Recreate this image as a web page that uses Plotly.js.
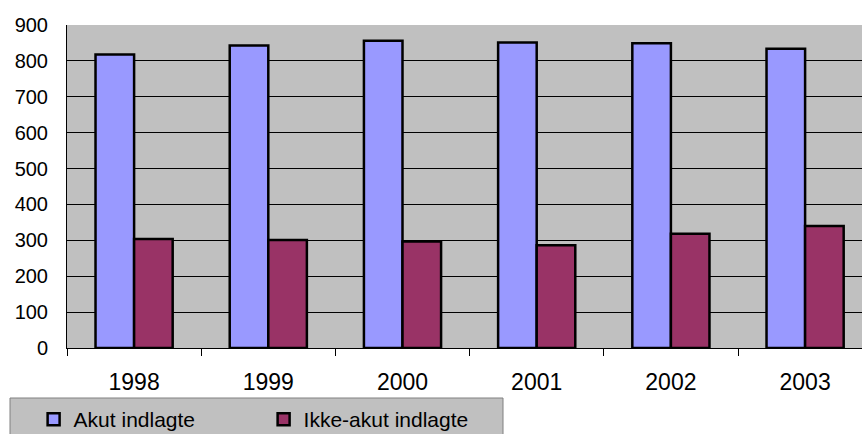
<!DOCTYPE html>
<html>
<head>
<meta charset="utf-8">
<script src="https://cdn.plot.ly/plotly-3.0.1.min.js"></script>
<style>html,body{margin:0;padding:0;background:#fff;}#chart{width:862px;height:434px;}</style>
</head>
<body>
<div id="chart"></div>
<script>
var years = ["1998", "1999", "2000", "2001", "2002", "2003"];
var akut = [818, 843, 856, 851, 849, 834];
var ikkeAkut = [304, 301, 297, 286, 318, 340];
var seriesNames = ["Akut indlagte", "Ikke-akut indlagte"];
var yTicks = [0, 100, 200, 300, 400, 500, 600, 700, 800, 900];

var FONT = "Arial, 'Liberation Sans', sans-serif";

var data = [
  {type: "bar", x: years, y: akut, name: seriesNames[0],
   marker: {color: "#9999FF", line: {color: "#000000", width: 2.5}}},
  {type: "bar", x: years, y: ikkeAkut, name: seriesNames[1],
   marker: {color: "#993366", line: {color: "#000000", width: 2.5}}}
];

var layout = {
  width: 862, height: 434,
  margin: {l: 67, r: 0, t: 25, b: 86, pad: 0, autoexpand: false},
  paper_bgcolor: "#FFFFFF",
  plot_bgcolor: "#C0C0C0",
  font: {family: FONT, color: "#000000", size: 20},
  barmode: "group",
  bargap: 0.425,
  bargroupgap: 0,
  xaxis: {
    type: "category",
    range: [-0.5, 5.424],
    automargin: false,
    showgrid: false,
    showline: true, linecolor: "#000000", linewidth: 1,
    ticks: "outside", tickson: "boundaries", ticklen: 7, tickcolor: "#000000", tickwidth: 1,
    tickfont: {family: FONT, size: 23, color: "#000000"},
    ticklabelstandoff: 13,
    zeroline: false, fixedrange: true
  },
  yaxis: {
    range: [0, 900],
    automargin: false,
    tickvals: yTicks,
    ticktext: yTicks.map(String),
    showgrid: true, gridcolor: "#000000", gridwidth: 1,
    showline: true, linecolor: "#000000", linewidth: 1,
    ticks: "",
    tickfont: {family: FONT, size: 20, color: "#000000"},
    ticklabelstandoff: 14,
    zeroline: false, fixedrange: true
  },
  showlegend: true,
  legend: {
    orientation: "h",
    x: -0.042, xanchor: "left",
    y: -0.158, yanchor: "top",
    bgcolor: "rgba(0,0,0,0)",
    borderwidth: 0,
    font: {family: FONT, size: 21, color: "#000000"},
    entrywidth: 185, entrywidthmode: "pixels",
    traceorder: "normal"
  },
  shapes: [{
    type: "rect", xref: "paper", yref: "paper",
    x0: (10 - 67) / 795, x1: (503 - 67) / 795,
    y0: (348 - 398) / 323, y1: (348 - 445) / 323,
    fillcolor: "#C0C0C0", line: {color: "#808080", width: 1}, layer: "below"
  }]
};

Plotly.newPlot("chart", data, layout, {staticPlot: true, displayModeBar: false});
</script>
</body>
</html>
